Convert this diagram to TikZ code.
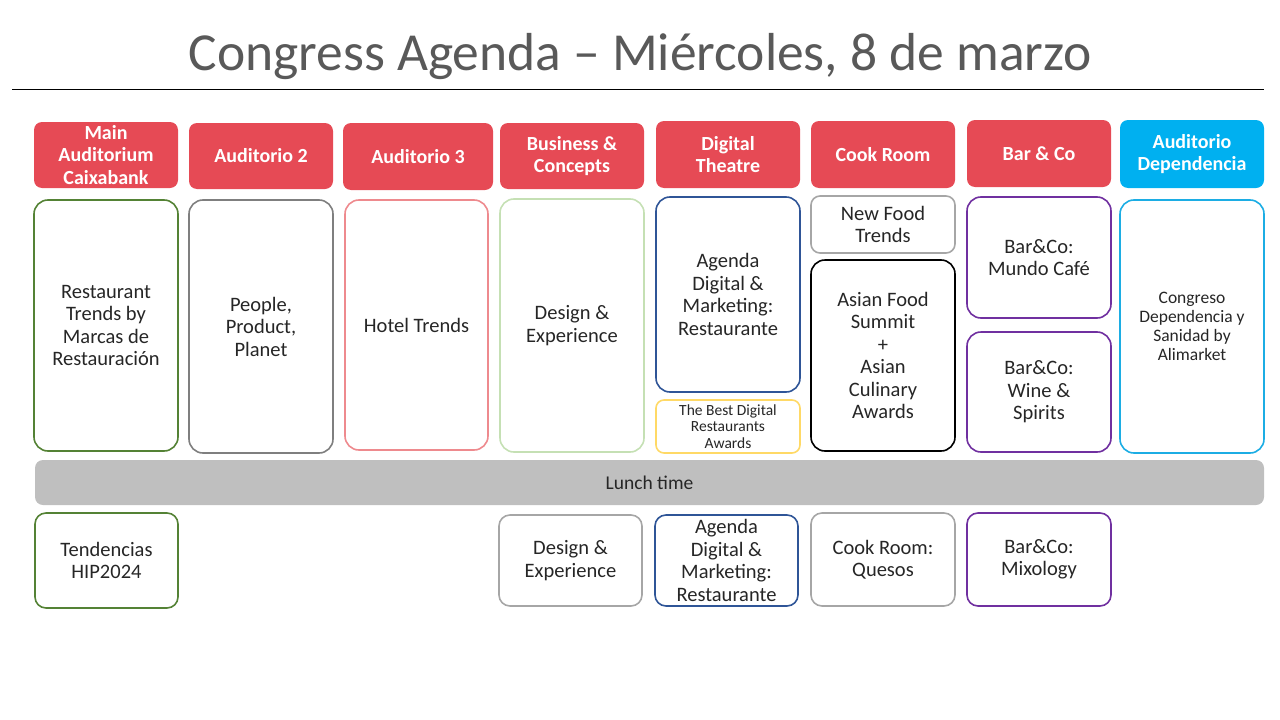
\documentclass[tikz,border=0pt]{standalone}
\usepackage{fontspec}
\setmainfont{Carlito}
\usetikzlibrary{positioning}
\definecolor{hdrred}{HTML}{E64A55}
\definecolor{hdrblue}{HTML}{00B0F0}
\definecolor{titlegray}{HTML}{595959}
\definecolor{cgreen}{HTML}{548235}
\definecolor{cgray}{HTML}{7F7F7F}
\definecolor{cpink}{HTML}{EE8A8E}
\definecolor{clgreen}{HTML}{C5E0B4}
\definecolor{cnavy}{HTML}{2F5597}
\definecolor{cyellow}{HTML}{FFD966}
\definecolor{clgray}{HTML}{A6A6A6}
\definecolor{cpurple}{HTML}{7030A0}
\definecolor{cblue}{HTML}{1CADE4}
\definecolor{lunchgray}{HTML}{BFBFBF}

\begin{document}
\begin{tikzpicture}[x=1pt,y=-1pt,
    hdr/.style={rounded corners=8pt,fill=hdrred,text=white,align=center,inner sep=0pt,
        font=\fontsize{20}{22.5}\selectfont\bfseries},
    slot/.style={draw=#1,rounded corners=14pt,line width=1.6pt,align=center,inner sep=0pt,
        text=black!85,font=\fontsize{20.5}{22.5}\selectfont},
    dims/.style 2 args={minimum width=#1,minimum height=#2}]
    \useasboundingbox (0,0) rectangle (1280,720);

    % Title
    \node[text=titlegray,font=\fontsize{53.5}{58}\selectfont] (title) at (640,57)
        {Congress Agenda – Miércoles, 8 de marzo};
    \coordinate (ruleL) at (12,89);
    \coordinate (ruleR) at (1264,89);
    \draw[line width=0.8pt] (ruleL) -- (ruleR);

    % Rooms
    \node[hdr,dims={144}{66}] (h1) at (106,155) {Main\\Auditorium\\Caixabank};
    \node[hdr,dims={144}{66}] (h2) at (261,156) {Auditorio 2};
    \node[hdr,dims={150}{67}] (h3) at (418,156.5) {Auditorio 3};
    \node[hdr,dims={144}{66}] (h4) at (572,156) {Business \&\\Concepts};
    \node[hdr,dims={144}{67}] (h5) at (728,154.5) {Digital\\Theatre};
    \node[hdr,dims={144}{67}] (h6) at (883,154.5) {Cook Room};
    \node[hdr,dims={144}{67}] (h7) at (1039,153.5) {Bar \& Co};
    \node[hdr,fill=hdrblue,dims={144}{68}] (h8) at (1192,154) {Auditorio\\Dependencia};

    % Morning sessions
    \node[slot=cgreen,dims={144}{251}] (m1) at (106,325.5)
        {Restaurant\\Trends by\\Marcas de\\Restauración};
    \node[slot=cgray,dims={144}{253}] (m2) at (261,326.5) {People,\\Product,\\Planet};
    \node[slot=cpink,dims={143}{250}] (m3) at (416.5,325) {Hotel Trends};
    \node[slot=clgreen,dims={144}{253}] (m4) at (572,325.5) {Design \&\\Experience};
    \node[slot=cnavy,dims={144}{195}] (m5) at (728,294.5)
        {Agenda\\Digital \&\\Marketing:\\Restaurante};
    \node[slot=cyellow,rounded corners=8pt,dims={144}{53},
        font=\fontsize{15.5}{16.5}\selectfont] (m5b) at (728,426.5)
        {The Best Digital\\Restaurants\\Awards};
    \node[slot=clgray,rounded corners=9pt,dims={144}{57}] (m6) at (883,224.5)
        {New Food\\Trends};
    \node[slot=black,dims={144}{191}] (m6b) at (883,355.5)
        {Asian Food\\Summit\\+\\Asian\\Culinary\\Awards};
    \node[slot=cpurple,dims={144}{121}] (m7) at (1039,257.5) {Bar\&Co:\\Mundo Café};
    \node[slot=cpurple,dims={144}{120}] (m7b) at (1039,392) {Bar\&Co:\\Wine \&\\Spirits};
    \node[slot=cblue,dims={144}{253},font=\fontsize{17.5}{19}\selectfont] (m8) at (1192,326.5)
        {Congreso\\Dependencia y\\Sanidad by\\Alimarket};

    % Break
    \node[fill=lunchgray,rounded corners=8pt,dims={1229}{45},text=black!85,
        font=\fontsize{19.5}{22}\selectfont] (lunch) at (649.5,482.5) {Lunch time};

    % Afternoon sessions
    \node[slot=cgreen,rounded corners=11pt,dims={143}{95}] (a1) at (106.5,560.5)
        {Tendencias\\HIP2024};
    \node[slot=clgray,rounded corners=11pt,dims={143}{91}] (a4) at (570.5,560.5)
        {Design \&\\Experience};
    \node[slot=cnavy,rounded corners=11pt,dims={143}{91}] (a5) at (726.5,560.5)
        {Agenda\\Digital \&\\Marketing:\\Restaurante};
    \node[slot=clgray,rounded corners=11pt,dims={144}{93}] (a6) at (883,559.5)
        {Cook Room:\\Quesos};
    \node[slot=cpurple,rounded corners=11pt,dims={144}{93}] (a7) at (1039,559.5)
        {Bar\&Co:\\Mixology};
\end{tikzpicture}
\end{document}
